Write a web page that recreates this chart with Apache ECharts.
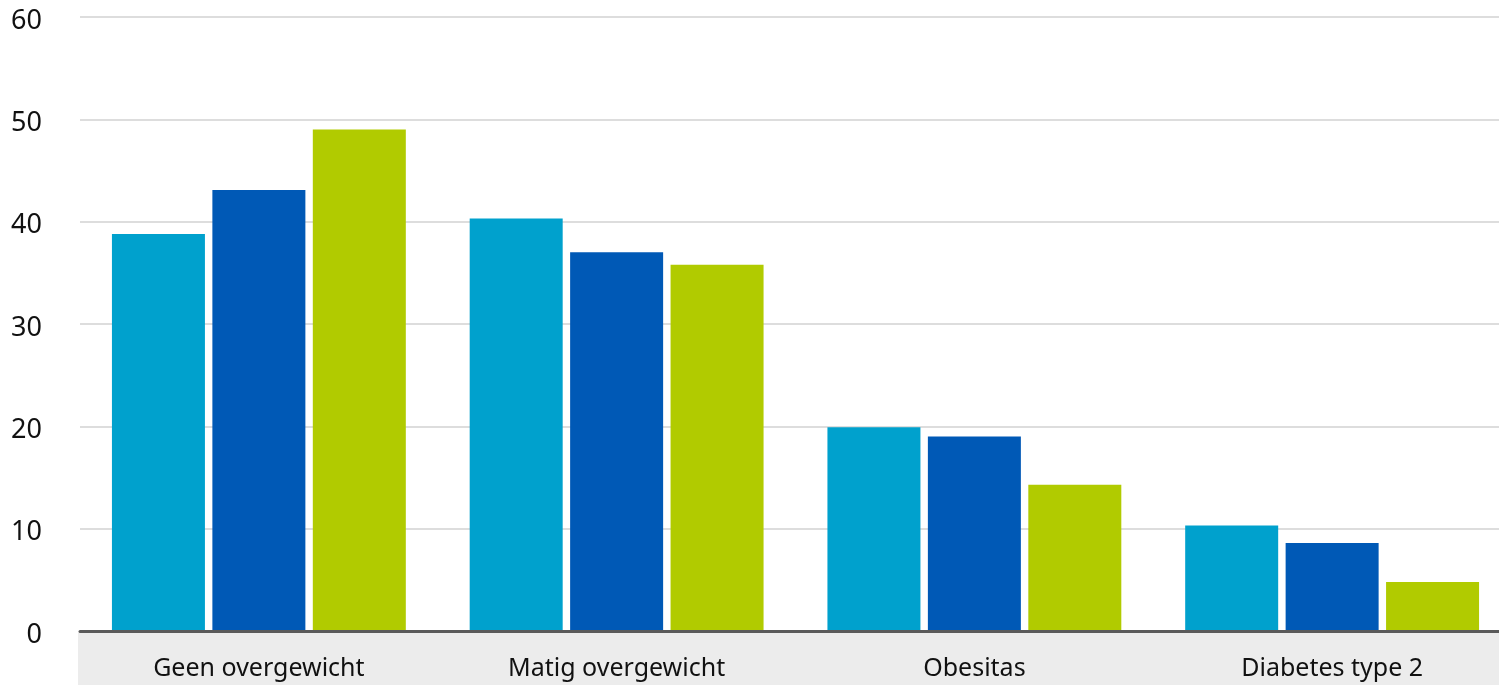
<!DOCTYPE html>
<html>
<head>
<meta charset="utf-8">
<script src="https://cdn.jsdelivr.net/npm/echarts@6/dist/echarts.min.js"></script>
<style>
  html, body { margin: 0; padding: 0; background: #fff; }
  #chart { width: 1499px; height: 685px; }
</style>
</head>
<body>
<div id="chart"></div>
<script>
// Categories along the x axis
const categories = ['Geen overgewicht', 'Matig overgewicht', 'Obesitas', 'Diabetes type 2'];

// Three groups, percentages per category
const seriesA = [38.8, 40.3, 19.9, 10.3];
const seriesB = [43.1, 37.0, 19.0, 8.6];
const seriesC = [49.0, 35.8, 14.3, 4.8];

const seriesNames = ['Groep 1', 'Groep 2', 'Groep 3'];
const seriesColors = ['#00a1cd', '#0059b6', '#b1cb00'];

// Y axis range and tick step
const yMin = 0;
const yMax = 60;
const yStep = 10;

const FONT = '"Noto Sans", sans-serif';

const chart = echarts.init(document.getElementById('chart'), null, { renderer: 'canvas' });

const gridLeft = 80, gridRight = -12, gridTop = 17, gridBottom = 54;

const option = {
  backgroundColor: '#ffffff',
  animation: false,
  grid: {
    left: gridLeft, right: gridRight, top: gridTop, bottom: gridBottom,
    containLabel: false, outerBoundsMode: 'none'
  },
  graphic: [
    {
      type: 'rect',
      z: -10,
      shape: { x: 78, y: 685 - gridBottom + 2, width: 1499 - 78, height: gridBottom },
      style: { fill: '#ececec' },
      silent: true
    }
  ],
  xAxis: {
    type: 'category',
    data: categories,
    axisLine: { show: true, lineStyle: { color: '#5a5a5a', width: 3 } },
    axisTick: { show: false },
    axisLabel: { color: '#111111', fontFamily: FONT, fontSize: 25, margin: 25 },
    z: 5
  },
  yAxis: {
    type: 'value',
    min: yMin,
    max: yMax,
    interval: yStep,
    axisLine: { show: false },
    axisTick: { show: false },
    splitLine: { lineStyle: { color: '#dddddd', width: 2 } },
    axisLabel: {
      margin: 38,
      formatter: '{v|{value}}',
      rich: {
        v: { color: '#111111', fontFamily: FONT, fontSize: 27, padding: [8, 0, 0, 0] }
      }
    }
  },
  series: [seriesA, seriesB, seriesC].map((vals, i) => ({
    name: seriesNames[i],
    type: 'bar',
    data: vals,
    barWidth: 93,
    barGap: '8%',
    itemStyle: { color: seriesColors[i] }
  }))
};

chart.setOption(option);
</script>
</body>
</html>
